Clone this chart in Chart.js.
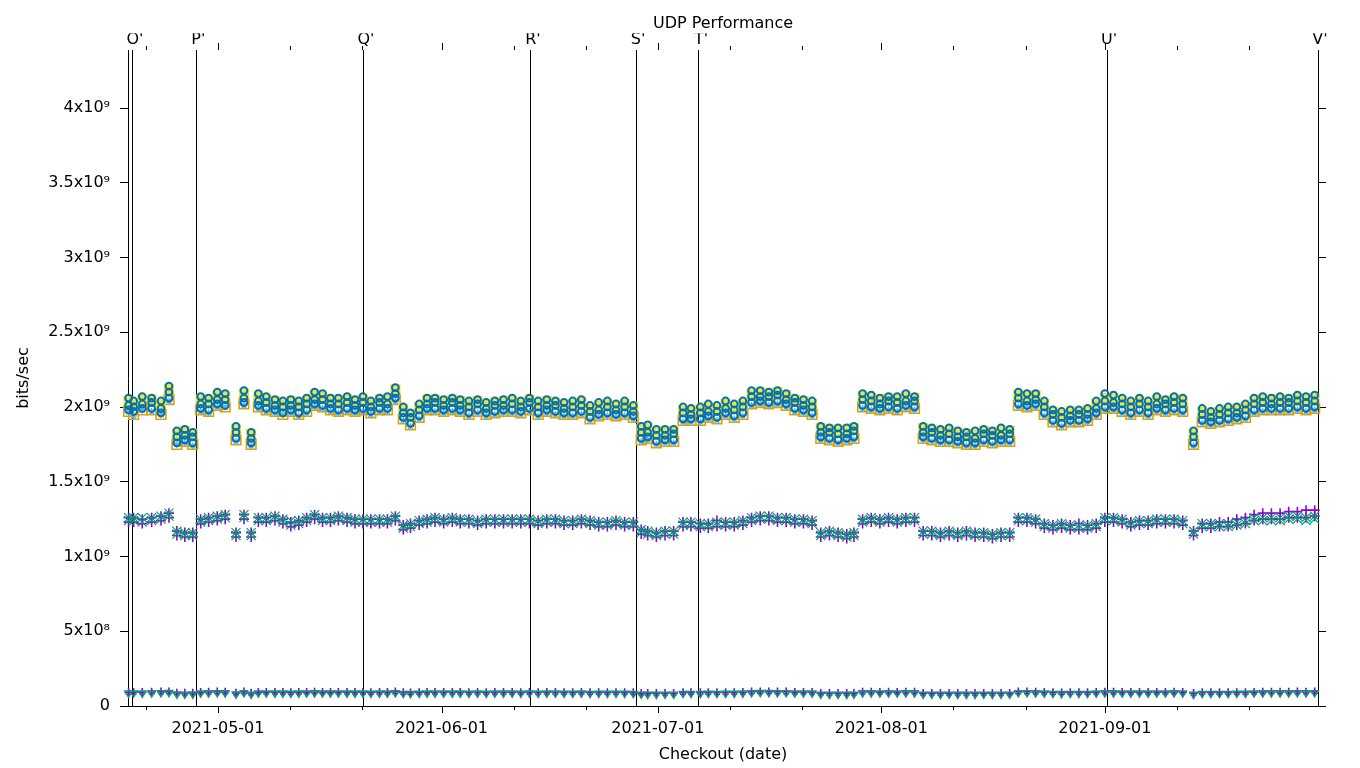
<!DOCTYPE html>
<html><head><meta charset="utf-8">
<script src="https://cdn.jsdelivr.net/npm/chart.js@4.4.1/dist/chart.umd.min.js"></script>
<style>html,body{margin:0;padding:0;background:#fff;}canvas{display:block;}</style>
</head><body>
<canvas id="c" width="1360" height="768"></canvas>
<script>
// Checkout times, in days since 2021-05-01 00:00
const checkoutDays = [
-12.4,-11.7,-10.5,-9.2,-7.9,-6.8,-5.7,-4.6,-3.5,-2.4,
-1.3,-0.1,1.0,2.5,3.6,4.6,5.6,6.7,7.9,9.0,
10.1,11.2,12.3,13.4,14.5,15.6,16.7,17.9,19.0,20.1,
21.2,22.4,23.5,24.6,25.7,26.7,27.9,29.0,30.1,31.3,
32.5,33.6,34.8,36.0,37.2,38.4,39.6,40.8,42.0,43.2,
44.4,45.6,46.8,48.0,49.2,50.4,51.6,52.8,54.0,55.2,
56.4,57.6,58.7,59.6,60.8,62.0,63.2,64.5,65.6,66.9,
68.0,69.2,70.4,71.6,72.8,74.0,75.2,76.4,77.6,78.8,
80.0,81.2,82.4,83.6,84.8,86.0,87.2,88.2,89.4,90.6,
91.8,93.0,94.2,95.4,96.6,97.8,99.0,100.2,101.4,102.6,
103.8,105.0,106.2,107.4,108.6,109.8,111.0,112.2,113.4,114.6,
115.8,117.0,118.2,119.4,120.6,121.8,123.0,124.2,125.4,126.6,
127.8,129.0,130.2,131.4,132.6,133.8,135.3,136.5,137.7,138.9,
140.1,141.3,142.5,143.7,144.9,146.1,147.3,148.5,149.7,150.9,
152.1];

// Values in Gbit/s
const blueTop = [
2.06,2.04,2.07,2.06,2.04,2.14,1.84,1.85,1.83,2.07,
2.06,2.10,2.09,1.87,2.11,1.83,2.09,2.07,2.05,2.04,
2.05,2.04,2.06,2.10,2.09,2.06,2.06,2.07,2.05,2.07,
2.04,2.06,2.07,2.13,2.00,1.96,2.02,2.06,2.06,2.05,
2.06,2.05,2.04,2.05,2.03,2.04,2.05,2.06,2.04,2.06,
2.04,2.05,2.04,2.03,2.04,2.05,2.01,2.03,2.04,2.02,
2.04,2.01,1.87,1.88,1.85,1.85,1.85,2.00,1.99,2.00,
2.02,2.01,2.04,2.02,2.04,2.11,2.11,2.10,2.11,2.09,
2.06,2.05,2.04,1.87,1.86,1.86,1.86,1.87,2.09,2.08,
2.06,2.07,2.07,2.09,2.07,1.87,1.86,1.85,1.86,1.84,
1.83,1.84,1.85,1.84,1.86,1.85,2.10,2.09,2.09,2.04,
1.98,1.97,1.98,1.98,1.99,2.04,2.09,2.08,2.06,2.04,
2.06,2.04,2.07,2.05,2.07,2.06,1.84,1.99,1.97,1.99,
2.00,2.00,2.02,2.06,2.07,2.06,2.07,2.06,2.08,2.07,
2.08];
const blueMid = [
2.01,2.00,2.02,2.03,1.99,2.10,1.80,1.81,1.80,2.02,
2.02,2.05,2.05,1.83,2.06,1.79,2.04,2.03,2.01,2.00,
2.01,2.00,2.02,2.05,2.05,2.02,2.02,2.03,2.01,2.03,
2.00,2.03,2.02,2.09,1.96,1.93,1.98,2.02,2.03,2.01,
2.03,2.01,2.00,2.02,1.99,2.01,2.01,2.02,2.00,2.03,
2.00,2.01,2.01,1.99,2.00,2.01,1.97,1.98,2.00,1.98,
2.00,1.97,1.83,1.83,1.81,1.81,1.82,1.96,1.95,1.96,
1.97,1.97,1.99,1.98,2.00,2.07,2.07,2.07,2.08,2.05,
2.03,2.01,2.00,1.83,1.83,1.82,1.82,1.84,2.05,2.04,
2.02,2.04,2.03,2.04,2.04,1.83,1.83,1.81,1.82,1.80,
1.80,1.79,1.82,1.81,1.81,1.82,2.06,2.04,2.05,2.00,
1.95,1.93,1.94,1.95,1.95,1.99,2.04,2.03,2.02,2.00,
2.02,2.00,2.02,2.02,2.03,2.02,1.80,1.95,1.93,1.95,
1.96,1.96,1.98,2.02,2.03,2.02,2.03,2.03,2.04,2.03,
2.04];
const blueBot = [
1.98,1.97,1.99,1.99,1.96,2.06,1.76,1.78,1.76,1.99,
1.98,2.02,2.01,1.79,2.03,1.76,2.01,1.99,1.98,1.96,
1.98,1.96,1.98,2.02,2.01,1.99,1.98,1.99,1.98,1.99,
1.97,1.99,1.99,2.06,1.93,1.89,1.94,1.99,1.99,1.98,
1.99,1.98,1.96,1.98,1.96,1.97,1.98,1.98,1.97,1.99,
1.96,1.98,1.97,1.96,1.96,1.97,1.93,1.95,1.96,1.95,
1.96,1.94,1.79,1.80,1.77,1.78,1.78,1.92,1.92,1.92,
1.94,1.93,1.96,1.94,1.96,2.03,2.04,2.03,2.04,2.02,
1.99,1.98,1.96,1.80,1.79,1.78,1.79,1.80,2.01,2.00,
1.99,2.00,1.99,2.01,2.00,1.80,1.79,1.78,1.78,1.77,
1.76,1.76,1.78,1.77,1.78,1.78,2.02,2.01,2.02,1.96,
1.91,1.89,1.91,1.91,1.92,1.96,2.00,2.00,1.98,1.96,
1.98,1.96,1.99,1.98,1.99,1.98,1.76,1.91,1.90,1.91,
1.92,1.93,1.94,1.98,1.99,1.99,1.99,1.99,2.00,1.99,
2.00];
const yellowRun = [
2.04,2.02,2.05,2.05,2.02,2.12,1.82,1.84,1.82,2.05,
2.04,2.08,2.07,1.85,2.09,1.82,2.07,2.05,2.04,2.02,
2.04,2.02,2.04,2.08,2.07,2.05,2.04,2.05,2.04,2.05,
2.03,2.05,2.05,2.12,1.99,1.95,2.00,2.05,2.05,2.04,
2.05,2.04,2.02,2.04,2.02,2.03,2.04,2.04,2.03,2.05,
2.02,2.04,2.03,2.02,2.02,2.03,1.99,2.01,2.02,2.01,
2.02,2.00,1.85,1.86,1.83,1.84,1.84,1.98,1.98,1.98,
2.00,1.99,2.02,2.00,2.02,2.09,2.10,2.09,2.10,2.08,
2.05,2.04,2.02,1.86,1.85,1.84,1.85,1.86,2.07,2.06,
2.05,2.06,2.05,2.07,2.06,1.86,1.85,1.84,1.84,1.83,
1.82,1.82,1.84,1.83,1.84,1.84,2.08,2.07,2.08,2.02,
1.97,1.95,1.97,1.97,1.98,2.02,2.06,2.06,2.04,2.02,
2.04,2.02,2.05,2.04,2.05,2.04,1.82,1.97,1.96,1.97,
1.98,1.99,2.00,2.04,2.05,2.05,2.05,2.05,2.06,2.05,
2.06];
const orangeRun = [
1.97,1.95,1.98,1.98,1.95,2.05,1.75,1.77,1.75,1.98,
1.97,2.01,2.00,1.78,2.02,1.75,2.00,1.98,1.97,1.95,
1.97,1.95,1.97,2.01,2.00,1.98,1.97,1.98,1.97,1.98,
1.96,1.98,1.98,2.05,1.92,1.88,1.93,1.98,1.98,1.97,
1.98,1.97,1.95,1.97,1.95,1.96,1.97,1.97,1.96,1.98,
1.95,1.97,1.96,1.95,1.95,1.96,1.92,1.94,1.95,1.94,
1.95,1.93,1.78,1.79,1.76,1.77,1.77,1.91,1.91,1.91,
1.93,1.92,1.95,1.93,1.95,2.02,2.03,2.02,2.03,2.01,
1.98,1.97,1.95,1.79,1.78,1.77,1.78,1.79,2.00,1.99,
1.98,1.99,1.98,2.00,1.99,1.79,1.78,1.77,1.77,1.76,
1.75,1.75,1.77,1.76,1.77,1.77,2.01,2.00,2.01,1.95,
1.90,1.88,1.90,1.90,1.91,1.95,1.99,1.99,1.97,1.95,
1.97,1.95,1.98,1.97,1.98,1.97,1.75,1.90,1.89,1.90,
1.91,1.92,1.93,1.97,1.98,1.98,1.98,1.98,1.99,1.98,
1.99];
const lightBlueRun = [
1.97,1.94,1.98,1.97,1.95,2.04,1.75,1.76,1.74,1.97,
1.96,2.00,2.00,1.77,2.01,1.74,1.99,1.97,1.96,1.95,
1.96,1.94,1.96,2.00,1.99,1.97,1.96,1.97,1.96,1.97,
1.95,1.97,1.97,2.04,1.91,1.87,1.92,1.97,1.97,1.96,
1.97,1.96,1.94,1.96,1.94,1.95,1.96,1.96,1.95,1.97,
1.94,1.96,1.95,1.94,1.94,1.95,1.91,1.93,1.94,1.93,
1.94,1.92,1.77,1.78,1.75,1.76,1.76,1.90,1.90,1.90,
1.92,1.91,1.94,1.92,1.94,2.01,2.02,2.01,2.02,2.00,
1.97,1.96,1.94,1.78,1.77,1.76,1.77,1.78,1.99,1.98,
1.97,1.98,1.97,1.99,1.98,1.78,1.77,1.76,1.76,1.75,
1.74,1.74,1.76,1.75,1.76,1.76,2.00,1.99,2.00,1.94,
1.89,1.87,1.89,1.89,1.90,1.94,1.98,1.98,1.96,1.94,
1.96,1.94,1.97,1.96,1.97,1.96,1.74,1.89,1.88,1.89,
1.90,1.91,1.92,1.96,1.97,1.97,1.97,1.97,1.98,1.97,
1.98];
const purpleHi = [
1.26,1.26,1.25,1.26,1.27,1.29,1.17,1.16,1.16,1.25,
1.26,1.27,1.28,1.16,1.28,1.16,1.26,1.26,1.27,1.25,
1.23,1.24,1.26,1.28,1.26,1.26,1.27,1.26,1.25,1.25,
1.25,1.25,1.25,1.27,1.21,1.22,1.24,1.25,1.26,1.25,
1.26,1.25,1.25,1.24,1.25,1.25,1.25,1.25,1.25,1.25,
1.24,1.25,1.25,1.24,1.24,1.25,1.24,1.23,1.23,1.24,
1.23,1.23,1.18,1.17,1.16,1.17,1.17,1.23,1.23,1.22,
1.22,1.24,1.23,1.23,1.24,1.26,1.27,1.27,1.26,1.26,
1.25,1.25,1.24,1.16,1.17,1.16,1.15,1.16,1.25,1.26,
1.25,1.26,1.25,1.26,1.26,1.17,1.17,1.16,1.17,1.16,
1.17,1.16,1.16,1.15,1.16,1.16,1.26,1.26,1.25,1.22,
1.21,1.22,1.21,1.22,1.21,1.22,1.26,1.26,1.25,1.23,
1.24,1.24,1.25,1.25,1.25,1.24,1.17,1.22,1.22,1.23,
1.23,1.25,1.26,1.28,1.29,1.29,1.29,1.30,1.30,1.31,
1.31];
const purpleLo = [
1.23,1.23,1.22,1.23,1.24,1.26,1.14,1.13,1.13,1.22,
1.23,1.24,1.25,1.13,1.25,1.13,1.23,1.23,1.24,1.22,
1.20,1.21,1.23,1.25,1.23,1.23,1.24,1.23,1.22,1.22,
1.22,1.22,1.22,1.24,1.18,1.19,1.21,1.22,1.23,1.22,
1.23,1.22,1.22,1.21,1.22,1.22,1.22,1.22,1.22,1.22,
1.21,1.22,1.22,1.21,1.21,1.22,1.21,1.20,1.20,1.21,
1.20,1.20,1.15,1.14,1.13,1.14,1.14,1.20,1.20,1.19,
1.19,1.20,1.20,1.20,1.21,1.23,1.24,1.24,1.23,1.23,
1.22,1.22,1.21,1.13,1.14,1.13,1.12,1.13,1.22,1.23,
1.22,1.23,1.22,1.23,1.23,1.14,1.14,1.13,1.14,1.13,
1.14,1.13,1.13,1.12,1.13,1.13,1.23,1.23,1.22,1.19,
1.18,1.19,1.18,1.18,1.18,1.19,1.23,1.23,1.22,1.20,
1.21,1.21,1.22,1.22,1.22,1.21,1.14,1.19,1.19,1.20,
1.20,1.21,1.22,1.24,1.25,1.25,1.25,1.26,1.26,1.26,
1.27];
const greenHi = [
1.26,1.26,1.26,1.26,1.27,1.29,1.17,1.16,1.16,1.25,
1.26,1.27,1.28,1.16,1.28,1.16,1.26,1.26,1.27,1.25,
1.24,1.24,1.26,1.28,1.26,1.26,1.27,1.26,1.25,1.25,
1.25,1.25,1.25,1.27,1.21,1.22,1.24,1.25,1.26,1.25,
1.26,1.25,1.25,1.24,1.25,1.25,1.25,1.25,1.25,1.25,
1.24,1.25,1.25,1.24,1.24,1.25,1.24,1.23,1.23,1.24,
1.23,1.23,1.18,1.17,1.16,1.17,1.17,1.23,1.23,1.22,
1.22,1.23,1.23,1.23,1.24,1.26,1.27,1.27,1.26,1.26,
1.25,1.25,1.24,1.16,1.17,1.16,1.15,1.16,1.25,1.26,
1.25,1.26,1.25,1.26,1.26,1.17,1.17,1.16,1.17,1.16,
1.17,1.16,1.16,1.15,1.16,1.16,1.26,1.26,1.25,1.22,
1.21,1.22,1.21,1.21,1.21,1.22,1.26,1.26,1.25,1.23,
1.24,1.24,1.25,1.25,1.25,1.24,1.17,1.22,1.22,1.22,
1.22,1.23,1.24,1.26,1.26,1.26,1.26,1.27,1.27,1.26,
1.27];
const greenLo = [
1.24,1.24,1.23,1.24,1.25,1.27,1.15,1.14,1.14,1.23,
1.24,1.25,1.26,1.14,1.26,1.14,1.24,1.24,1.25,1.23,
1.21,1.22,1.24,1.26,1.24,1.24,1.25,1.24,1.23,1.23,
1.23,1.23,1.23,1.25,1.19,1.20,1.22,1.23,1.24,1.23,
1.24,1.23,1.23,1.22,1.23,1.23,1.23,1.23,1.23,1.23,
1.22,1.23,1.23,1.22,1.22,1.23,1.22,1.21,1.21,1.22,
1.21,1.21,1.16,1.15,1.14,1.15,1.15,1.21,1.21,1.20,
1.20,1.21,1.21,1.21,1.22,1.24,1.25,1.25,1.24,1.24,
1.23,1.23,1.22,1.14,1.15,1.14,1.13,1.14,1.23,1.24,
1.23,1.24,1.23,1.24,1.24,1.15,1.15,1.14,1.15,1.14,
1.15,1.14,1.14,1.13,1.14,1.14,1.24,1.24,1.23,1.20,
1.19,1.20,1.19,1.19,1.19,1.20,1.24,1.24,1.23,1.21,
1.22,1.22,1.23,1.23,1.23,1.22,1.15,1.20,1.20,1.20,
1.20,1.21,1.22,1.24,1.24,1.24,1.24,1.25,1.25,1.24,
1.25];
const purpleLow = [
0.092,0.093,0.092,0.094,0.095,0.096,0.088,0.087,0.088,0.093,
0.094,0.095,0.094,0.088,0.095,0.087,0.093,0.093,0.092,0.092,
0.091,0.092,0.093,0.094,0.093,0.093,0.093,0.092,0.092,0.092,
0.091,0.092,0.092,0.095,0.090,0.089,0.091,0.092,0.092,0.092,
0.092,0.092,0.091,0.092,0.091,0.092,0.092,0.092,0.091,0.092,
0.091,0.092,0.092,0.091,0.091,0.092,0.090,0.091,0.091,0.091,
0.091,0.090,0.086,0.086,0.085,0.086,0.086,0.090,0.090,0.090,
0.091,0.090,0.091,0.091,0.092,0.095,0.096,0.096,0.095,0.095,
0.093,0.093,0.092,0.086,0.085,0.085,0.085,0.086,0.094,0.094,
0.093,0.094,0.093,0.094,0.094,0.086,0.086,0.085,0.086,0.085,
0.085,0.085,0.086,0.085,0.086,0.086,0.095,0.095,0.094,0.092,
0.090,0.089,0.090,0.090,0.090,0.092,0.094,0.094,0.093,0.092,
0.093,0.092,0.093,0.093,0.094,0.093,0.085,0.090,0.090,0.090,
0.090,0.091,0.091,0.093,0.094,0.094,0.094,0.094,0.095,0.094,
0.095];
const greenLow = [
0.086,0.087,0.086,0.088,0.089,0.090,0.080,0.079,0.080,0.087,
0.088,0.089,0.088,0.080,0.089,0.079,0.087,0.087,0.086,0.086,
0.085,0.086,0.087,0.088,0.087,0.087,0.087,0.086,0.086,0.086,
0.085,0.086,0.086,0.089,0.084,0.083,0.085,0.086,0.086,0.086,
0.086,0.086,0.085,0.086,0.085,0.086,0.086,0.086,0.085,0.086,
0.085,0.086,0.086,0.085,0.085,0.086,0.084,0.085,0.085,0.085,
0.085,0.084,0.079,0.078,0.078,0.079,0.079,0.084,0.084,0.084,
0.085,0.084,0.085,0.085,0.086,0.089,0.090,0.090,0.089,0.089,
0.087,0.087,0.086,0.079,0.078,0.078,0.078,0.079,0.088,0.088,
0.087,0.088,0.087,0.088,0.088,0.079,0.079,0.078,0.079,0.078,
0.078,0.078,0.079,0.078,0.079,0.079,0.089,0.089,0.088,0.086,
0.084,0.083,0.084,0.084,0.084,0.086,0.088,0.088,0.087,0.086,
0.087,0.086,0.087,0.087,0.088,0.087,0.078,0.084,0.084,0.084,
0.084,0.085,0.085,0.087,0.088,0.088,0.088,0.088,0.089,0.088,
0.089];
const blackLow = [
0.080,0.081,0.080,0.081,0.082,0.083,0.075,0.074,0.075,0.081,
0.081,0.082,0.082,0.075,0.082,0.074,0.081,0.081,0.080,0.080,
0.079,0.080,0.081,0.082,0.081,0.081,0.081,0.080,0.080,0.080,
0.079,0.080,0.080,0.082,0.078,0.077,0.079,0.080,0.080,0.080,
0.080,0.080,0.079,0.080,0.079,0.080,0.080,0.080,0.079,0.080,
0.079,0.080,0.080,0.079,0.079,0.080,0.078,0.079,0.079,0.079,
0.079,0.078,0.074,0.074,0.073,0.074,0.074,0.078,0.078,0.078,
0.079,0.078,0.079,0.079,0.080,0.082,0.083,0.083,0.082,0.082,
0.081,0.081,0.080,0.074,0.073,0.073,0.073,0.074,0.081,0.081,
0.081,0.082,0.081,0.082,0.082,0.074,0.074,0.073,0.074,0.073,
0.073,0.073,0.074,0.073,0.074,0.074,0.082,0.082,0.081,0.080,
0.078,0.077,0.078,0.078,0.078,0.080,0.081,0.081,0.081,0.080,
0.081,0.080,0.081,0.081,0.082,0.081,0.073,0.078,0.078,0.078,
0.078,0.079,0.079,0.081,0.082,0.082,0.082,0.082,0.082,0.082,
0.083];

// Event markers (days since 2021-05-01)
const markerDays   = [-11.79, -3.0, 20.25, 43.41, 57.98, 66.71, 123.3, 152.56];
const markerLabels = ["O'", "P'", "Q'", "R'", "S'", "T'", "U'", "V'"];

// x ticks (days since 2021-05-01) and labels
const xTickDays   = [-10, 0, 10, 20, 31, 41, 51, 61, 71, 81, 92, 102, 112, 123, 133, 143];
const xTickLabels = ['', '2021-05-01', '', '', '2021-06-01', '', '', '2021-07-01', '', '', '2021-08-01', '', '', '2021-09-01', '', ''];
const xRange = [-12.48, 152.56];

// y ticks
const yTickValues = [0, 5e8, 1e9, 1.5e9, 2e9, 2.5e9, 3e9, 3.5e9, 4e9];
const yTickLabels = ['0', '5x10\u2078', '1x10\u2079', '1.5x10\u2079', '2x10\u2079', '2.5x10\u2079', '3x10\u2079', '3.5x10\u2079', '4x10\u2079'];
const yMax = 4.388e9;

const FONT = "'DejaVu Sans', 'Liberation Sans', sans-serif";
const fnt = {family: FONT, size: 16, weight: 'normal'};

function pts(arr) { return checkoutDays.map((d, i) => ({x: d, y: arr[i] * 1e9})); }
function ds(label, arr, color, style, r, bw, fill, extra) {
  return Object.assign({
    label, data: pts(arr), showLine: false, clip: false,
    pointStyle: style, pointRadius: r, pointBorderWidth: bw,
    borderColor: color, backgroundColor: fill ? color : 'rgba(0,0,0,0)',
    pointBackgroundColor: fill ? color : 'rgba(0,0,0,0)', pointBorderColor: color
  }, extra || {});
}

const datasets = [
  ds('blue 1', blueTop, '#0072b2', 'circle', 3.4, 2, false),
  ds('blue 2', blueMid, '#0072b2', 'circle', 3.4, 2, false),
  ds('blue 3', blueBot, '#0072b2', 'circle', 3.4, 2, false),
  ds('yellow', yellowRun, '#f0e442', 'rect', 7.2, 0, true),
  ds('light blue', lightBlueRun, '#56b4e9', 'star', 3.5, 1.2, false),
  ds('orange', orangeRun, '#e69f00', 'rect', 6.8, 1.6, false),
  ds('green low', greenLow, '#009e73', 'triangle', 4.2, 1.4, false, {pointRotation: 180}),
  ds('purple low', purpleLow, '#9400d3', 'cross', 4.2, 1.6, false),
  ds('black low', blackLow, '#000000', 'line', 3, 1, false),
  ds('green 1', greenHi, '#009e73', 'crossRot', 6.4, 1.2, false),
  ds('green 2', greenLo, '#009e73', 'crossRot', 6.4, 1.2, false),
  ds('purple 1', purpleHi, '#9400d3', 'cross', 5, 1.6, false),
  ds('purple 2', purpleLo, '#9400d3', 'cross', 5, 1.6, false)
];

const xTickPlugin = {
  id: 'xTicksBothSides',
  afterDraw(chart) {
    const {ctx, chartArea, scales} = chart;
    const x = scales.x;
    ctx.save();
    ctx.strokeStyle = '#000';
    ctx.lineWidth = 1;
    xTickDays.forEach((d, i) => {
      const px = Math.round(x.getPixelForValue(d)) + 0.5;
      const len = xTickLabels[i] ? 7 : 4;
      ctx.beginPath();
      ctx.moveTo(px, chartArea.bottom); ctx.lineTo(px, chartArea.bottom + len);
      ctx.moveTo(px, chartArea.top); ctx.lineTo(px, chartArea.top - len);
      ctx.stroke();
    });
    ctx.restore();
  }
};

new Chart(document.getElementById('c'), {
  type: 'scatter',
  data: {datasets},
  plugins: [xTickPlugin],
  options: {
    responsive: false,
    animation: false,
    events: [],
    devicePixelRatio: 1,
    layout: {padding: 0},
    plugins: {
      legend: {display: false},
      tooltip: {enabled: false},
      title: {display: true, text: 'UDP Performance', color: '#000', font: fnt, fullSize: false,
              padding: {top: 14, bottom: 0}}
    },
    scales: {
      x: {
        type: 'linear', position: 'bottom', min: xRange[0], max: xRange[1],
        afterBuildTicks: s => { s.ticks = xTickDays.map(v => ({value: v})); },
        ticks: {autoSkip: false, maxRotation: 0, minRotation: 0, padding: 13, color: '#000', font: fnt,
                callback: (v, i) => xTickLabels[i]},
        grid: {drawOnChartArea: false, drawTicks: false},
        border: {display: true, color: '#000', width: 1},
        title: {display: true, text: 'Checkout (date)', color: '#000', font: fnt, padding: {top: 0, bottom: 4}},
        afterFit: s => { s.height = 62; }
      },
      xTop: {
        type: 'linear', position: 'top', min: xRange[0], max: xRange[1],
        afterBuildTicks: s => { s.ticks = markerDays.map(v => ({value: v})); },
        ticks: {autoSkip: false, maxRotation: 0, minRotation: 0, padding: 1, labelOffset: 2, color: '#000', font: fnt,
                callback: (v, i) => markerLabels[i]},
        grid: {drawOnChartArea: true, drawTicks: false, color: '#000', lineWidth: 1},
        border: {display: false},
        afterFit: s => { s.height = 50 - 33.2; }
      },
      y: {
        type: 'linear', position: 'left', min: 0, max: yMax,
        afterBuildTicks: s => { s.ticks = yTickValues.map(v => ({value: v})); },
        ticks: {padding: 10, color: '#000', font: fnt, callback: (v, i) => yTickLabels[i]},
        grid: {drawOnChartArea: false, drawTicks: true, tickLength: 8, color: '#000', tickColor: '#000'},
        border: {display: true, color: '#000', width: 1},
        title: {display: true, text: 'bits/sec', color: '#000', font: fnt, padding: {top: 14.4, bottom: 0}},
        afterFit: s => { s.width = 128; }
      },
      yRight: {
        type: 'linear', position: 'right', min: 0, max: yMax,
        afterBuildTicks: s => { s.ticks = yTickValues.map(v => ({value: v})); },
        ticks: {padding: 0, font: fnt, callback: () => ''},
        grid: {drawOnChartArea: false, drawTicks: true, tickLength: 8, color: '#000', tickColor: '#000'},
        border: {display: true, color: '#000', width: 1},
        afterFit: s => { s.width = 42; }
      }
    }
  }
});
</script>
</body></html>
